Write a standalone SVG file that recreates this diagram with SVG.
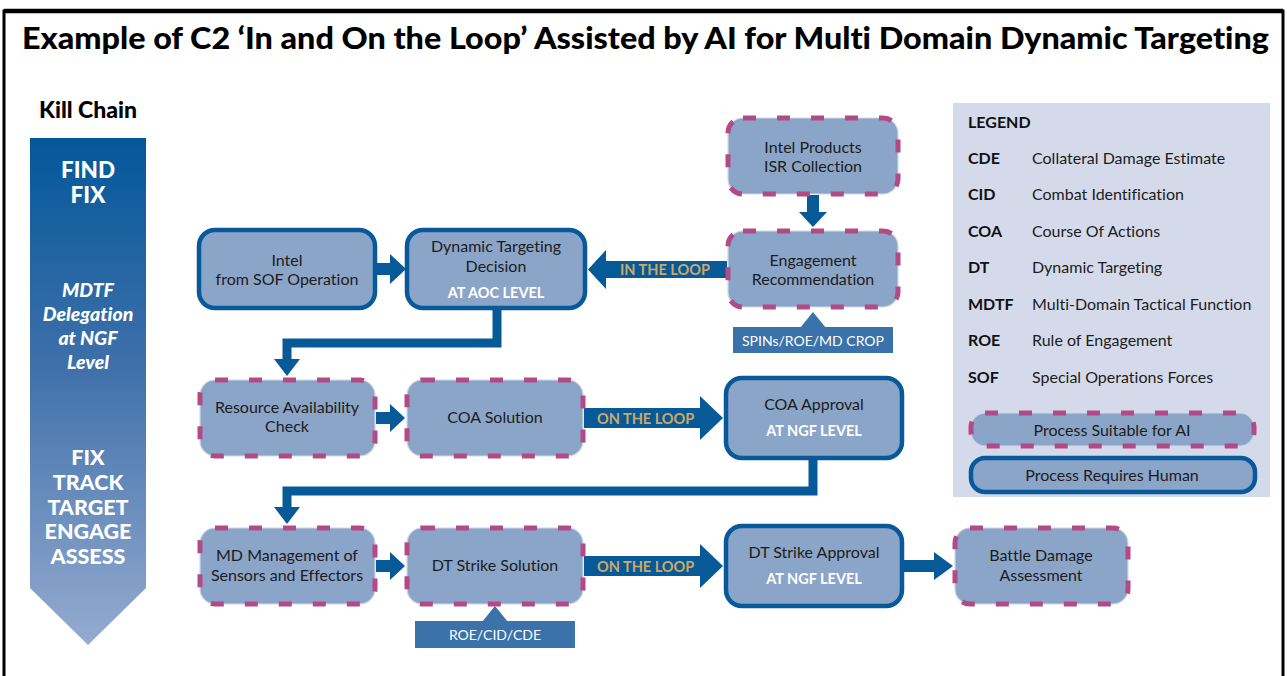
<svg xmlns="http://www.w3.org/2000/svg" width="1287" height="676" viewBox="0 0 1287 676">
  <defs>
    <linearGradient id="chainGrad" x1="0" y1="0" x2="0" y2="1">
      <stop offset="0" stop-color="#03589a"/>
      <stop offset="0.45" stop-color="#3f70aa"/>
      <stop offset="1" stop-color="#95abd0"/>
    </linearGradient>
    <style>
      text { font-variant-ligatures: none; }
      .txt { font-family: Lato, "Open Sans", "Liberation Sans", sans-serif; font-size: 16px; fill: #1c1c1c; text-anchor: middle; }
      .lvl { font-family: Lato, "Open Sans", "Liberation Sans", sans-serif; font-size: 14.5px; font-weight: 700; fill: #ffffff; text-anchor: middle; }
      .loop { font-family: Lato, "Open Sans", "Liberation Sans", sans-serif; font-size: 14.5px; font-weight: 700; fill: #cfa868; }
      .info { font-family: Lato, "Open Sans", "Liberation Sans", sans-serif; font-size: 14px; fill: #ffffff; text-anchor: middle; }
      .aiEdge { fill: #8ba5c9; stroke: #cdd8ea; stroke-width: 1.2; }
      .aiDash { fill: none; stroke: #b14a86; stroke-width: 5; stroke-dasharray: 13 21; }
      .human { fill: #8ba5c9; stroke: #08599a; stroke-width: 4.5; }
      .arrow { fill: #065a97; }
      .pipe { fill: none; stroke: #065a97; stroke-width: 9; }
      .infoBox { fill: #3b72a9; }
      .chain { font-family: Lato, "Open Sans", "Liberation Sans", sans-serif; font-weight: 900; fill: #ffffff; text-anchor: middle; }
      .leg { font-family: Lato, "Open Sans", "Liberation Sans", sans-serif; font-size: 16px; fill: #1c1c1c; }
      .legB { font-family: Lato, "Open Sans", "Liberation Sans", sans-serif; font-size: 16px; font-weight: 700; fill: #111111; }
    </style>
  </defs>

  <rect x="0" y="0" width="1287" height="676" fill="#ffffff"/>

  <!-- frame -->
  <rect x="4" y="11" width="1279" height="700" fill="none" stroke="#000000" stroke-width="3"/>
  <line x1="4" y1="11" x2="1283" y2="11" stroke="#000000" stroke-width="4.5"/>

  <!-- title -->
  <text x="22" y="49" textLength="1247" lengthAdjust="spacingAndGlyphs" font-family="Lato, 'Open Sans', 'Liberation Sans', sans-serif" font-size="30" font-weight="900" fill="#000000">Example of C2 ‘In and On the Loop’ Assisted by AI for Multi Domain Dynamic Targeting</text>

  <!-- kill chain column -->
  <g id="kill-chain">
    <text x="88" y="118" font-family="Lato, 'Open Sans', 'Liberation Sans', sans-serif" font-size="23" font-weight="900" fill="#000000" text-anchor="middle">Kill Chain</text>
    <polygon points="30,138 146,138 146,588 88,645 30,588" fill="url(#chainGrad)"/>
    <text class="chain" x="88" y="178" font-size="22.5">FIND</text>
    <text class="chain" x="88" y="203" font-size="22.5">FIX</text>
    <text class="chain" x="88" y="297" font-size="19.5" font-style="italic">MDTF</text>
    <text class="chain" x="88" y="321" font-size="19.5" font-style="italic">Delegation</text>
    <text class="chain" x="88" y="345" font-size="19.5" font-style="italic">at NGF</text>
    <text class="chain" x="88" y="369" font-size="19.5" font-style="italic">Level</text>
    <text class="chain" x="88" y="465" font-size="21.5">FIX</text>
    <text class="chain" x="88" y="490" font-size="21.5">TRACK</text>
    <text class="chain" x="88" y="514.5" font-size="21.5">TARGET</text>
    <text class="chain" x="88" y="539" font-size="21.5">ENGAGE</text>
    <text class="chain" x="88" y="564" font-size="21.5">ASSESS</text>
  </g>

  <!-- connectors -->
  <g id="connectors">
    <!-- Intel SOF -> Dynamic Targeting Decision -->
    <rect class="arrow" x="376" y="263" width="16" height="12"/>
    <polygon class="arrow" points="390,254 406,269 390,284"/>
    <!-- Intel Products -> Engagement Recommendation -->
    <rect class="arrow" x="807" y="195" width="12" height="18"/>
    <polygon class="arrow" points="799,212 827,212 813,227"/>
    <!-- Engagement Recommendation -> Dynamic Targeting Decision (in the loop) -->
    <rect class="arrow" x="604" y="261" width="123" height="17"/>
    <polygon class="arrow" points="606,250 588,269.5 606,289"/>
    <text class="loop" x="620" y="275">IN THE LOOP</text>
    <!-- SPINs/ROE/MD CROP input -->
    <polygon class="infoBox" points="800,328 826,328 813,312"/>
    <rect class="infoBox" x="733" y="327" width="160" height="26"/>
    <text class="info" x="813" y="345.5">SPINs/ROE/MD CROP</text>
    <!-- Dynamic Targeting Decision -> Resource Availability Check -->
    <path class="pipe" d="M497,309 V343 H287 V362"/>
    <polygon class="arrow" points="274,359 300,359 287,376"/>
    <!-- Resource Availability Check -> COA Solution -->
    <rect class="arrow" x="376" y="412" width="16" height="12"/>
    <polygon class="arrow" points="390,404 405,418 390,432"/>
    <!-- COA Solution -> COA Approval (on the loop) -->
    <rect class="arrow" x="584" y="408" width="118" height="20"/>
    <polygon class="arrow" points="700,396 723,418 700,440"/>
    <text class="loop" x="597" y="423.5">ON THE LOOP</text>
    <!-- COA Approval -> MD Management -->
    <path class="pipe" d="M813,457 V491 H287 V510"/>
    <polygon class="arrow" points="274,507 300,507 287,524"/>
    <!-- MD Management -> DT Strike Solution -->
    <rect class="arrow" x="376" y="560" width="16" height="12"/>
    <polygon class="arrow" points="390,552 405,566 390,580"/>
    <!-- DT Strike Solution -> DT Strike Approval (on the loop) -->
    <rect class="arrow" x="584" y="556" width="118" height="20"/>
    <polygon class="arrow" points="700,544 723,566 700,588"/>
    <text class="loop" x="597" y="571.5">ON THE LOOP</text>
    <!-- ROE/CID/CDE input -->
    <polygon class="infoBox" points="482,622 508,622 495,606"/>
    <rect class="infoBox" x="415" y="621" width="160" height="27"/>
    <text class="info" x="495" y="640">ROE/CID/CDE</text>
    <!-- DT Strike Approval -> Battle Damage Assessment -->
    <rect class="arrow" x="902" y="560" width="34" height="12"/>
    <polygon class="arrow" points="934,552 953,566 934,580"/>
  </g>

  <!-- row 1 -->
  <g id="intel-products">
    <rect class="aiEdge" x="728" y="118" width="170" height="76" rx="15"/>
    <rect class="aiDash" x="728" y="118" width="170" height="76" rx="15"/>
    <text class="txt" x="813" y="153">Intel Products</text>
    <text class="txt" x="813" y="172">ISR Collection</text>
  </g>
  <g id="intel-sof">
    <rect class="human" x="199" y="230" width="176" height="78" rx="16"/>
    <text class="txt" x="287" y="266">Intel</text>
    <text class="txt" x="287" y="285">from SOF Operation</text>
  </g>
  <g id="dt-decision">
    <rect class="human" x="407" y="230" width="178" height="78" rx="16"/>
    <text class="txt" x="496" y="252">Dynamic Targeting</text>
    <text class="txt" x="496" y="272">Decision</text>
    <text class="lvl" x="496" y="298">AT AOC LEVEL</text>
  </g>
  <g id="engagement">
    <rect class="aiEdge" x="728" y="231" width="170" height="76" rx="15"/>
    <rect class="aiDash" x="728" y="231" width="170" height="76" rx="15"/>
    <text class="txt" x="813" y="266">Engagement</text>
    <text class="txt" x="813" y="285">Recommendation</text>
  </g>

  <!-- row 2 -->
  <g id="resource-check">
    <rect class="aiEdge" x="200" y="380" width="175" height="76" rx="15"/>
    <rect class="aiDash" x="200" y="380" width="175" height="76" rx="15"/>
    <text class="txt" x="287" y="413">Resource Availability</text>
    <text class="txt" x="287" y="432">Check</text>
  </g>
  <g id="coa-solution">
    <rect class="aiEdge" x="407" y="380" width="176" height="76" rx="15"/>
    <rect class="aiDash" x="407" y="380" width="176" height="76" rx="15"/>
    <text class="txt" x="495" y="423">COA Solution</text>
  </g>
  <g id="coa-approval">
    <rect class="human" x="726" y="378" width="176" height="80" rx="16"/>
    <text class="txt" x="814" y="410">COA Approval</text>
    <text class="lvl" x="814" y="436">AT NGF LEVEL</text>
  </g>

  <!-- row 3 -->
  <g id="md-management">
    <rect class="aiEdge" x="200" y="528" width="175" height="76" rx="15"/>
    <rect class="aiDash" x="200" y="528" width="175" height="76" rx="15"/>
    <text class="txt" x="287" y="561">MD Management of</text>
    <text class="txt" x="287" y="581">Sensors and Effectors</text>
  </g>
  <g id="dt-strike-solution">
    <rect class="aiEdge" x="407" y="528" width="176" height="76" rx="15"/>
    <rect class="aiDash" x="407" y="528" width="176" height="76" rx="15"/>
    <text class="txt" x="495" y="571">DT Strike Solution</text>
  </g>
  <g id="dt-strike-approval">
    <rect class="human" x="726" y="526" width="176" height="80" rx="16"/>
    <text class="txt" x="814" y="558">DT Strike Approval</text>
    <text class="lvl" x="814" y="584">AT NGF LEVEL</text>
  </g>
  <g id="bda">
    <rect class="aiEdge" x="955" y="528" width="173" height="76" rx="15"/>
    <rect class="aiDash" x="955" y="528" width="173" height="76" rx="15"/>
    <text class="txt" x="1041" y="561">Battle Damage</text>
    <text class="txt" x="1041" y="581">Assessment</text>
  </g>

  <!-- legend -->
  <g id="legend">
    <rect x="953" y="103" width="317" height="394" fill="#d5daeb"/>
    <text class="legB" x="968" y="128">LEGEND</text>
    <text class="legB" x="968" y="164">CDE</text>
    <text class="leg" x="1032" y="164">Collateral Damage Estimate</text>
    <text class="legB" x="968" y="200">CID</text>
    <text class="leg" x="1032" y="200">Combat Identification</text>
    <text class="legB" x="968" y="237">COA</text>
    <text class="leg" x="1032" y="237">Course Of Actions</text>
    <text class="legB" x="968" y="273">DT</text>
    <text class="leg" x="1032" y="273">Dynamic Targeting</text>
    <text class="legB" x="968" y="310">MDTF</text>
    <text class="leg" x="1032" y="310">Multi-Domain Tactical Function</text>
    <text class="legB" x="968" y="346">ROE</text>
    <text class="leg" x="1032" y="346">Rule of Engagement</text>
    <text class="legB" x="968" y="383">SOF</text>
    <text class="leg" x="1032" y="383">Special Operations Forces</text>
    <rect class="aiEdge" x="971" y="413" width="283" height="33" rx="14"/>
    <rect class="aiDash" x="971" y="413" width="283" height="33" rx="14"/>
    <text class="txt" x="1112" y="436">Process Suitable for AI</text>
    <rect class="human" x="971" y="458" width="284" height="34" rx="14"/>
    <text class="txt" x="1112" y="481">Process Requires Human</text>
  </g>
</svg>
